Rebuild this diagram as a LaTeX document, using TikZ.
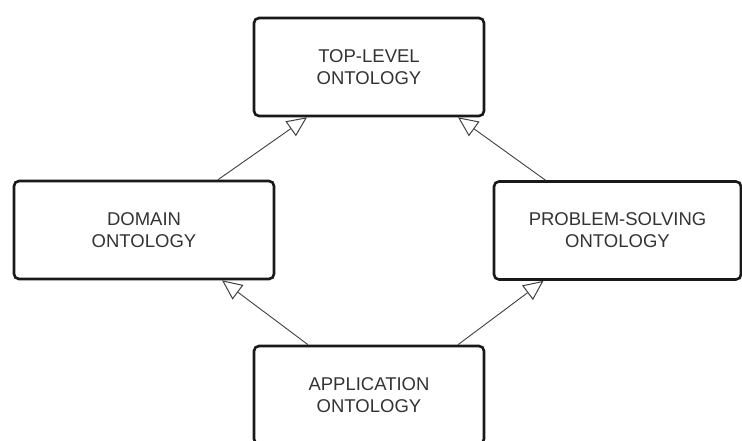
\documentclass[tikz,border=0pt]{standalone}
\usepackage{fontspec}
\setmainfont{Liberation Sans}
\usetikzlibrary{arrows.meta}

\begin{document}
\begin{tikzpicture}[x=1pt,y=-1pt,
		onto/.style={draw=black!90,line width=2.6pt,rounded corners=5pt,fill=white,
			minimum height=98pt,inner sep=0pt,align=center,text=black!80,
			font=\fontsize{18.5}{22}\selectfont},
		isa/.style={draw=black!75,line width=0.9pt,
			-{Triangle[open,length=20pt,width=18pt,line width=1pt]}}]
			\clip (0,0) rectangle (742,441);
			\fill[white] (0,0) rectangle (742,441);
			\node[onto,minimum width=230pt] (top) at (369,67) {TOP-LEVEL\\ONTOLOGY};
			\node[onto,minimum width=260pt] (dom) at (144,230) {DOMAIN\\ONTOLOGY};
			\node[onto,minimum width=247pt] (prob) at (617.5,230.5) {PROBLEM-SOLVING\\ONTOLOGY};
			\node[onto,minimum width=230pt] (app) at (369,395) {APPLICATION\\ONTOLOGY};
			\draw[isa] ([xshift=74pt]dom.north) -- ([xshift=-62pt]top.south);
			\draw[isa] ([xshift=-72pt]prob.north) -- ([xshift=89pt]top.south);
			\draw[isa] ([xshift=-61pt]app.north) -- ([xshift=78pt]dom.south);
			\draw[isa] ([xshift=89pt]app.north) -- ([xshift=-74pt]prob.south);
		\end{tikzpicture}
\end{document}
